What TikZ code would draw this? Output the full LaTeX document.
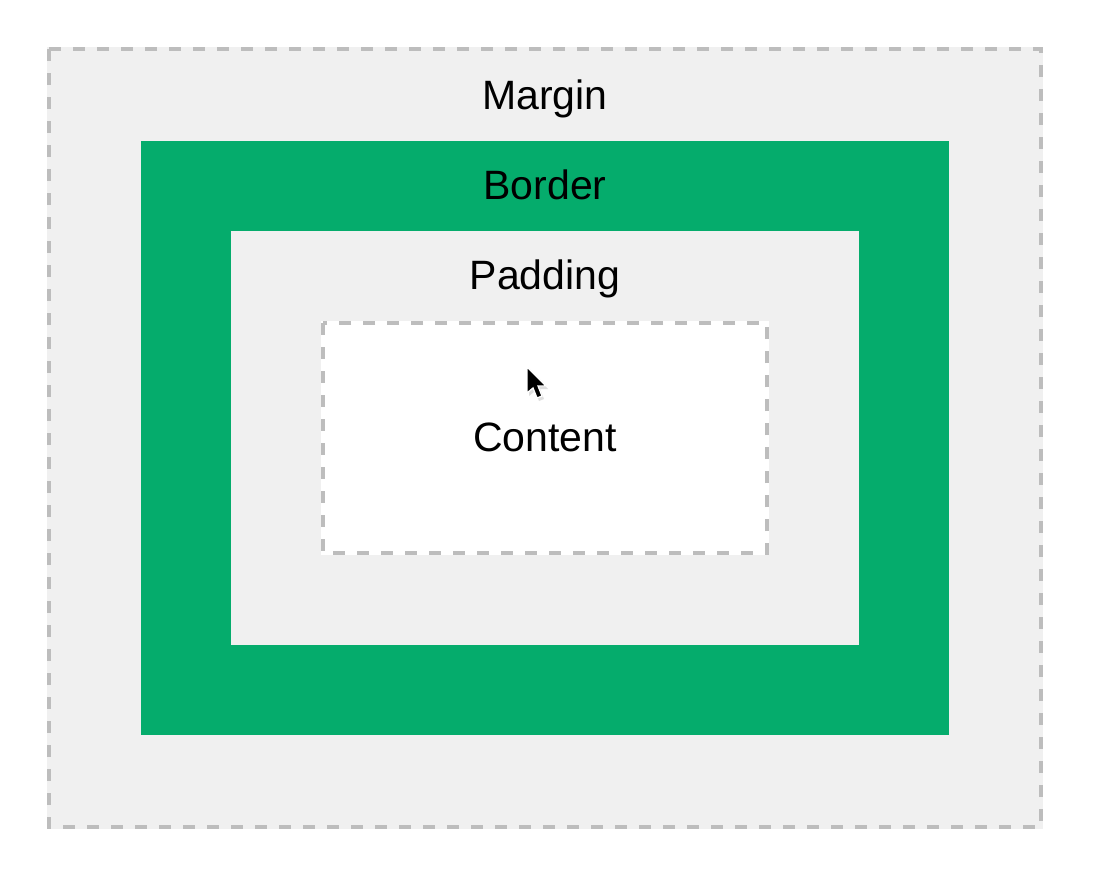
\documentclass[tikz,border=0pt]{standalone}
\usepackage{fontspec}
\setmainfont{Liberation Sans}
\definecolor{marginbg}{HTML}{F0F0F0}
\definecolor{bordergreen}{HTML}{05AC6C}
\definecolor{dashgray}{HTML}{BDBDBD}
\tikzset{
  boxlabel/.style={anchor=base, inner sep=0pt, font=\fontsize{41}{49}\selectfont, text=black},
  dashedge/.style={draw=dashgray, line width=4pt, dash pattern=on 12pt off 12pt},
}
\begin{document}
\begin{tikzpicture}[x=1pt,y=-1pt]
  \useasboundingbox (0,0) rectangle (1105,878);
  \fill[white] (0,0) rectangle (1105,878);
  % margin area with dashed outline
  \fill[marginbg] (47,47) rectangle (1043,829);
  \draw[dashedge] (49,49) rectangle (1041,827);
  % border ring
  \fill[bordergreen] (141,141) rectangle (949,735);
  % padding area
  \fill[marginbg] (231,231) rectangle (859,645);
  % content area with dashed outline
  \fill[white] (321,321) rectangle (769,555);
  \draw[dashedge] (323,323) rectangle (767,553);
  % labels
  \node[boxlabel] (margin) at (545,109) {Margin};
  \node[boxlabel] (border) at (545,199) {Border};
  \node[boxlabel] (padding) at (545,289) {Padding};
  \node[boxlabel] (content) at (545,451) {Content};
  % mouse pointer with a soft shadow
  \fill[black!25, opacity=0.5]
    (529,370) -- (529,396) -- (535,391) -- (539,401) -- (544,399) -- (540,389) -- (548,389) -- cycle;
  \filldraw[fill=black, draw=white, line width=1.3pt, line join=miter]
    (527,367) -- (527,393) -- (533,388) -- (537,398) -- (542,396) -- (538,386) -- (546,386) -- cycle;
\end{tikzpicture}
\end{document}
